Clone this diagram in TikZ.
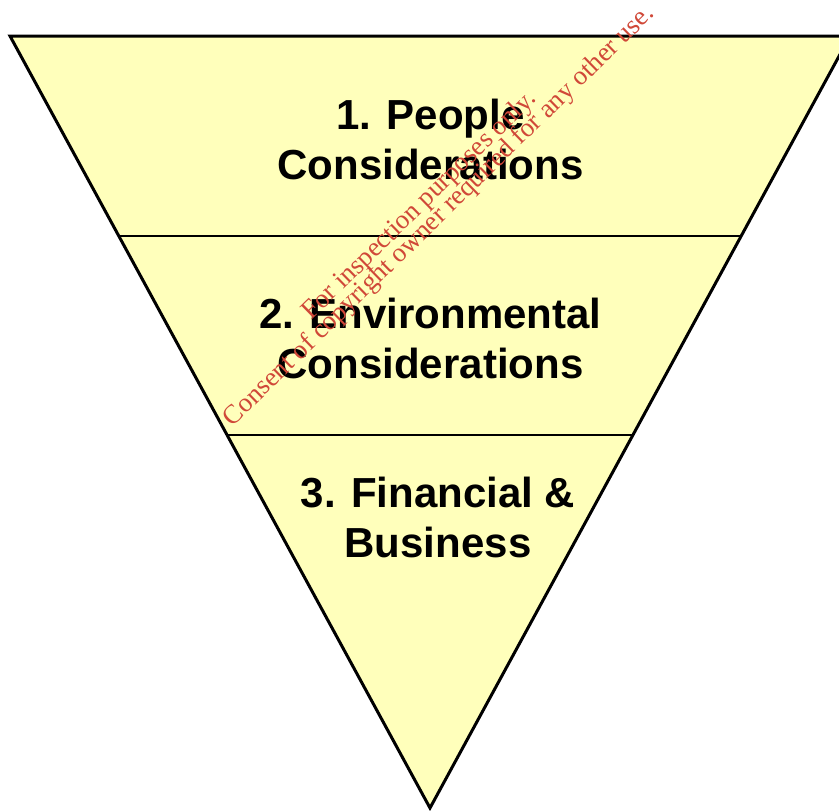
\documentclass[tikz,border=0pt]{standalone}
\usepackage{fontspec}
\setmainfont{Liberation Sans}
\newfontfamily\stampfont{Liberation Serif}
\definecolor{paleyellow}{RGB}{255,255,187}
\definecolor{stampred}{RGB}{208,72,56}
\tikzset{
  layer/.style={draw=black, line width=3pt, fill=paleyellow, line join=miter},
  divider/.style={draw=black, line width=2.6pt},
  label/.style={font=\fontsize{42}{50}\selectfont\bfseries, align=center, inner sep=0pt},
  stamp/.style={font=\stampfont\fontsize{26.8}{31}\selectfont, text=stampred, rotate=44.3, anchor=base, inner sep=0pt}
}
\begin{document}
\begin{tikzpicture}[x=1pt, y=-1pt]
  \useasboundingbox (0,0) rectangle (839,811);
  \begin{scope}
    \clip (0,0) rectangle (839,811);
    % inverted triangle
    \coordinate (tl) at (10,36);
    \coordinate (tr) at (850,36);
    \coordinate (apex) at (430,808);
    \draw[layer] (tl) -- (tr) -- (apex) -- cycle;
    % layer boundaries
    \coordinate (d1l) at (118.8,236);
    \coordinate (d1r) at (741.2,236);
    \coordinate (d2l) at (227,435);
    \coordinate (d2r) at (633,435);
    \draw[divider] (d1l) -- (d1r);
    \draw[divider] (d2l) -- (d2r);
  \end{scope}
  % layer labels
  \node[label] (people) at (430.5,139) {1. People\\Considerations};
  \node[label] (environment) at (430.5,338) {2. Environmental\\Considerations};
  \node[label] (finance) at (438,517) {3. Financial \&\\Business};
  % stamp
  \node[stamp] (stampa) at (424.5,210.4) {For inspection purposes only.};
  \node[stamp] (stampb) at (444,221) {Consent of copyright owner required for any other use.};
\end{tikzpicture}
\end{document}
